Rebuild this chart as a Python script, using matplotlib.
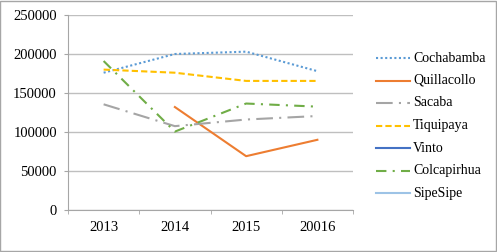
import matplotlib
matplotlib.use("Agg")
import matplotlib.pyplot as plt
import numpy as np
from matplotlib.patches import Rectangle
from matplotlib.lines import Line2D

years = ["2013", "2014", "2015", "20016"]
cochabamba = [176000, 200000, 203000, 178000]
quillacollo = [np.nan, 132000, 69000, 90000]
sacaba = [135500, 107500, 116000, 120500]
tiquipaya = [180000, 176000, 165500, 165500]
vinto = [np.nan, np.nan, np.nan, np.nan]
colcapirhua = [191000, 100500, 136500, 132500]
sipesipe = [np.nan, np.nan, np.nan, np.nan]
yticks = [0, 50000, 100000, 150000, 200000, 250000]

plt.rcParams['font.family'] = ['Liberation Serif', 'DejaVu Serif']

W, H = 497, 252
fig = plt.figure(figsize=(W / 100, H / 100), dpi=100)
ax = fig.add_axes([68 / W, 1 - 210 / H, 285 / W, 195 / H])

x = np.arange(len(years))
series = [
    ("Cochabamba", cochabamba, "#5B9BD5", (0, (1, 1.2))),
    ("Quillacollo", quillacollo, "#ED7D31", "-"),
    ("Sacaba", sacaba, "#A5A5A5", (0, (8, 3, 1, 3))),
    ("Tiquipaya", tiquipaya, "#FFC000", (0, (3, 1.5))),
    ("Vinto", vinto, "#4472C4", "-"),
    ("Colcapirhua", colcapirhua, "#70AD47", (0, (5, 3, 1, 3))),
    ("SipeSipe", sipesipe, "#9DC3E6", "-"),
]
for name, vals, col, ls in series:
    ax.plot(x, vals, color=col, linestyle=ls, lw=1.5, label=name)

ax.set_xlim(-0.5, 3.5)
ax.set_ylim(0, 250000)
ax.set_yticks(yticks)
ax.set_yticklabels([str(v) for v in yticks])
ax.set_xticks(x)
ax.set_xticklabels(years)
ax.set_xticks(np.arange(-0.5, 4, 1), minor=True)
ax.grid(axis='y', color='#BFBFBF', lw=1)
ax.set_axisbelow(True)
for s in ['top', 'right']:
    ax.spines[s].set_visible(False)
ax.spines['left'].set_color('#A6A6A6')
ax.spines['bottom'].set_color('#A6A6A6')
ax.tick_params(axis='x', which='major', length=0, pad=8, labelsize=10.5)
ax.tick_params(axis='x', which='minor', length=3, color='#A6A6A6')
ax.tick_params(axis='y', length=3, color='#A6A6A6', pad=5, labelsize=10.5)

# legend drawn row by row so the spacing matches
for i, (name, vals, col, ls) in enumerate(series):
    yy = 1 - (58 + 22.5 * i) / H
    fig.add_artist(Line2D([376 / W, 410 / W], [yy, yy], color=col, linestyle=ls,
                          lw=1.5, transform=fig.transFigure))
    fig.text(413 / W, yy, name, fontsize=10, va='center', ha='left')

fig.patches.append(Rectangle((0.001, 0.002), 0.997, 0.995, transform=fig.transFigure,
                             fill=False, edgecolor='#A6A6A6', lw=1))

fig.savefig("out.png", dpi=100)
